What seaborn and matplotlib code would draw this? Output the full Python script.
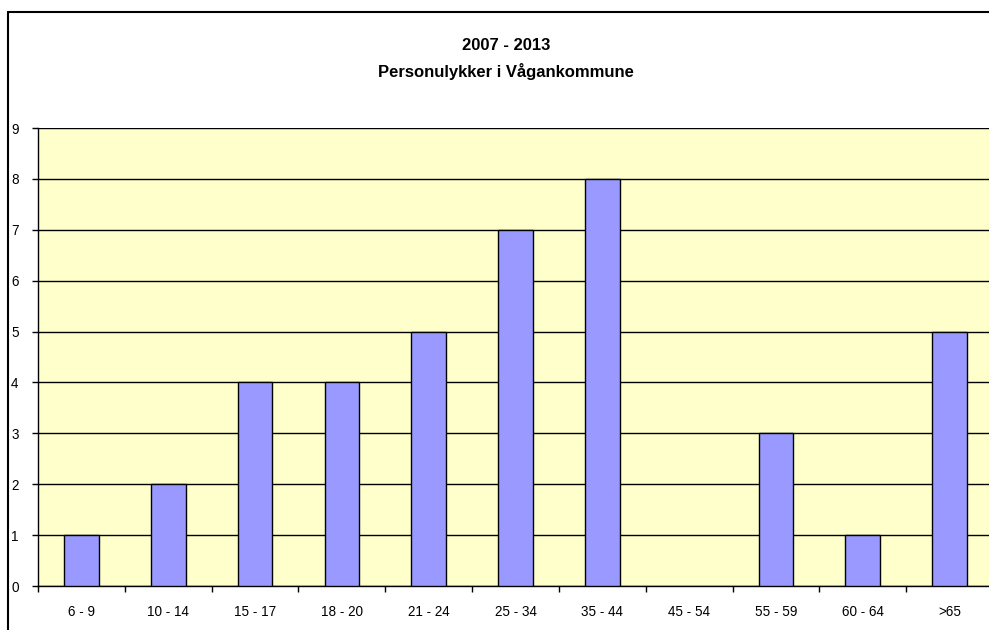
import matplotlib
matplotlib.use("Agg")
import matplotlib.pyplot as plt
import seaborn as sns
import pandas as pd
from matplotlib.lines import Line2D

# -----------------------------
# Data
# -----------------------------
age_groups = ["6 - 9", "10 - 14", "15 - 17", "18 - 20", "21 - 24", "25 - 34",
              "35 - 44", "45 - 54", "55 - 59", "60 - 64", ">65"]
accidents = [1, 2, 4, 4, 5, 7, 8, 0, 3, 1, 5]

df = pd.DataFrame({"age": age_groups, "count": accidents})

sns.set_style("white")
plt.rcParams["font.family"] = ["Liberation Sans", "DejaVu Sans"]
plt.rcParams["text.color"] = "black"
plt.rcParams["xtick.color"] = "black"
plt.rcParams["ytick.color"] = "black"

fig = plt.figure(figsize=(9.89, 6.30), dpi=100)
fig.patch.set_facecolor("white")
ax = fig.add_axes([38 / 989, 44 / 630, 955 / 989, 458 / 630])

sns.barplot(data=df, x="age", y="count", ax=ax, color="#9999FF",
            edgecolor="black", linewidth=1, width=0.4, saturation=1, zorder=3)

# no outline for empty bars
for patch in ax.patches:
    if patch.get_height() == 0:
        patch.set_linewidth(0)

ax.set_facecolor("#FFFFCC")
ax.set_xlim(-0.5, len(age_groups) - 0.5)
ax.set_ylim(0, 9)
ax.set_yticks(range(0, 10))
ax.yaxis.grid(True, color="black", linewidth=1, zorder=1)
ax.set_axisbelow(True)

# ticks between categories on x axis
ax.set_xticks([i + 0.5 for i in range(-1, len(age_groups))], minor=False)
ax.set_xticklabels([])
ax.set_xticks(range(len(age_groups)), minor=True)
ax.set_xticklabels(age_groups, minor=True)
ax.tick_params(axis="x", which="major", bottom=True, direction="out", length=4, width=1, color="black")
ax.tick_params(axis="x", which="minor", bottom=True, length=0, pad=14, labelsize=9.75, labelcolor="black")
ax.tick_params(axis="y", left=True, direction="out", length=4, width=1, color="black", pad=10,
               labelsize=9.75, labelcolor="black")

ax.set_xlabel("")
ax.set_ylabel("")
for side in ["top", "right"]:
    ax.spines[side].set_visible(False)
for side in ["left", "bottom"]:
    ax.spines[side].set_color("black")
    ax.spines[side].set_linewidth(1)

# title
fig.text(506 / 989, 1 - 46 / 630, "2007 - 2013", ha="center", va="center",
         fontsize=12, fontweight="bold", color="black")
fig.text(506 / 989, 1 - 72 / 630, "Personulykker i Vågankommune", ha="center", va="center",
         fontsize=12, fontweight="bold", color="black")

# outer chart frame
fig.add_artist(Line2D([7.5 / 989, 7.5 / 989], [0, 1 - 12 / 630], transform=fig.transFigure,
                      color="black", linewidth=1.5))
fig.add_artist(Line2D([7.5 / 989, 1], [1 - 12 / 630, 1 - 12 / 630], transform=fig.transFigure,
                      color="black", linewidth=1.5))

fig.savefig("out.png", dpi=100)
